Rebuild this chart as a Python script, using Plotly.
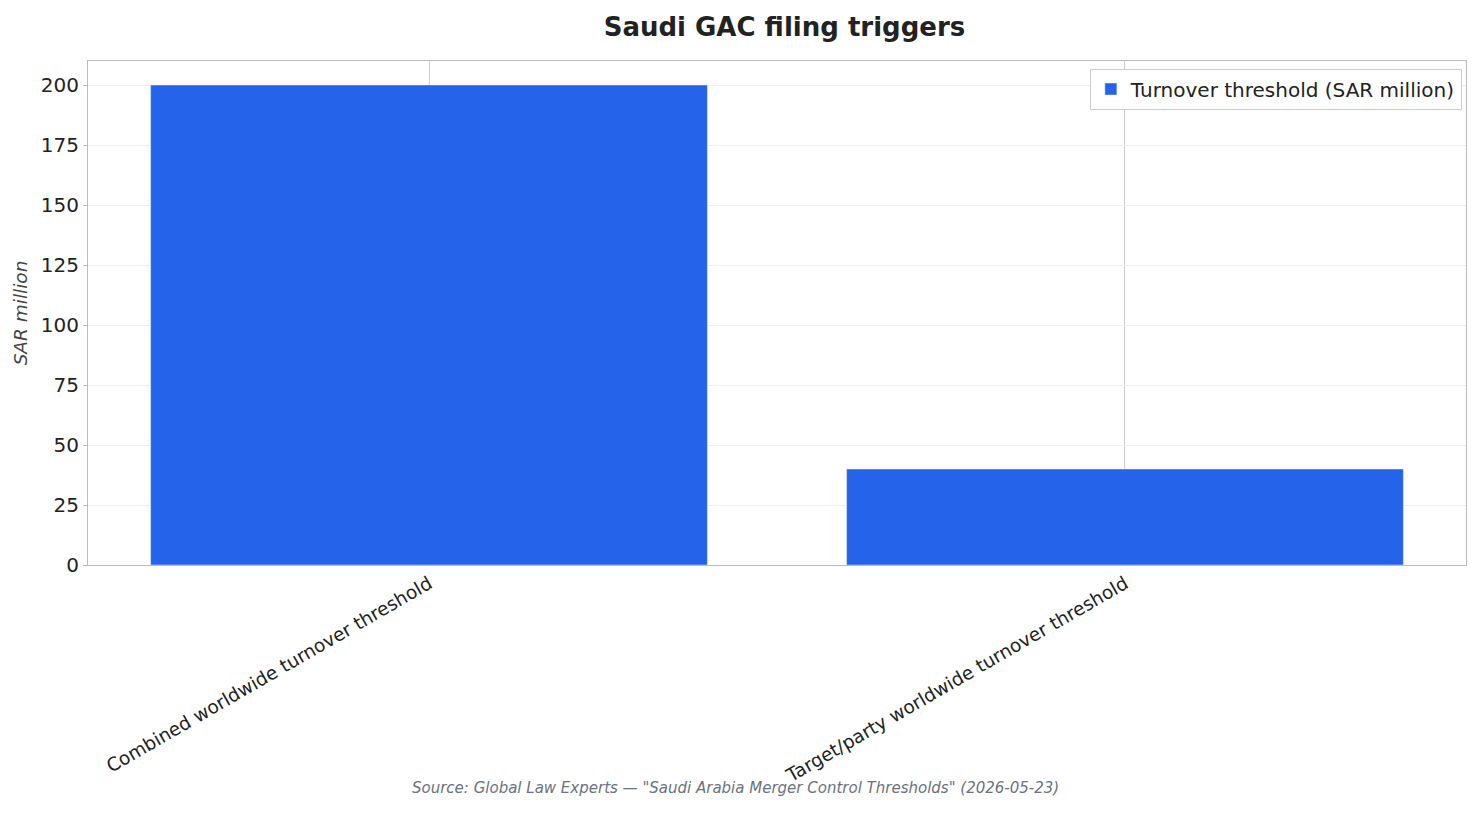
import plotly.graph_objects as go

categories = ["Combined worldwide turnover threshold", "Target/party worldwide turnover threshold"]
values = [200, 40]
series_name = "Turnover threshold (SAR million)"
y_ticks = [0, 25, 50, 75, 100, 125, 150, 175, 200]

fig = go.Figure()
fig.add_trace(go.Bar(x=categories, y=values, name=series_name, marker_color="#2563eb",
                     width=0.8, showlegend=True))

fig.update_layout(
    width=1465, height=808,
    font=dict(family="DejaVu Sans", color="#222222"),
    paper_bgcolor="white", plot_bgcolor="white",
    margin=dict(l=80, r=7, t=53, b=251),
    title=dict(text="<b>Saudi GAC filing triggers</b>", x=0.53, xanchor="center",
               y=0.977, yanchor="middle", font=dict(size=26, color="#222222")),
    legend=dict(x=0.997, y=0.985, xanchor="right", yanchor="top", bgcolor="white",
                bordercolor="#cccccc", borderwidth=1, font=dict(size=20)),
    bargap=0.2,
)
fig.update_xaxes(range=[-0.49, 1.49], showgrid=True, gridcolor="#cccccc", gridwidth=1,
                 tickangle=-30, tickfont=dict(size=18.5), showline=True, linecolor="#bbbbbb",
                 mirror=True, ticks="", layer="below traces")
fig.update_yaxes(range=[0, 210], tickvals=y_ticks, showgrid=True, gridcolor="#eeeeee",
                 tickfont=dict(size=20), showline=True, linecolor="#bbbbbb", mirror=True,
                 zeroline=False, ticks="outside", ticklen=4, tickcolor="#bbbbbb",
                 title=dict(text="<i>SAR million</i>", font=dict(size=18.5, color="#444444"),
                            standoff=8))
fig.add_annotation(text='<i>Source: Global Law Experts — "Saudi Arabia Merger Control Thresholds" (2026-05-23)</i>',
                   xref="paper", yref="paper", x=0.47, y=-0.465, showarrow=False,
                   font=dict(size=15, color="#6b7280"))

fig.write_html("out.html")
